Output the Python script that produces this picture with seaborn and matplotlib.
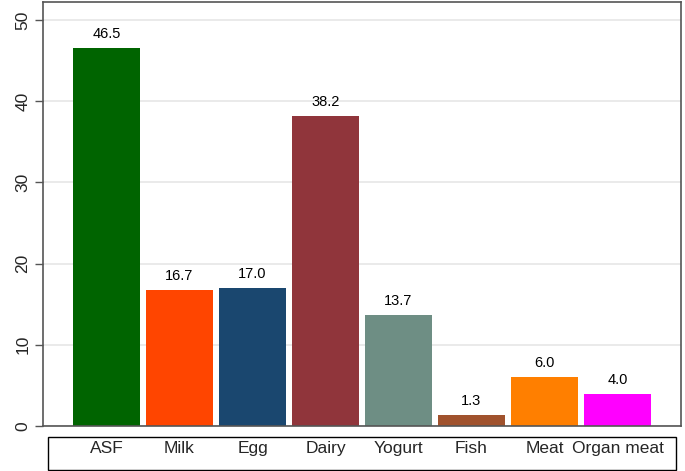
import matplotlib
matplotlib.use("Agg")
import matplotlib.pyplot as plt
import seaborn as sns
import pandas as pd
from matplotlib.patches import Rectangle

sns.set_theme(style="white")
plt.rcParams["font.family"] = ["Liberation Sans", "DejaVu Sans"]

# data
categories = ["ASF", "Milk", "Egg", "Dairy", "Yogurt", "Fish", "Meat", "Organ meat"]
values = [46.5, 16.7, 17.0, 38.2, 13.7, 1.3, 6.0, 4.0]
colors = ["#006400", "#FF4500", "#1A476F", "#90353B",
          "#6E8E84", "#A0522D", "#FF7F00", "#FF00FF"]
yticks = [0, 10, 20, 30, 40, 50]

df = pd.DataFrame({"food": categories, "pct": values})

fig = plt.figure(figsize=(6.85, 4.71), dpi=100)
ax = fig.add_axes([43 / 685, 1 - 426 / 471, (681 - 43) / 685, (426 - 2) / 471])

sns.barplot(data=df, x="food", y="pct", hue="food", palette=colors,
            width=0.92, legend=False, saturation=1, linewidth=0,
            ax=ax, zorder=3)

for c in ax.containers:
    ax.bar_label(c, fmt="%.1f", padding=5, fontsize=10.5, color="black")

ax.set_ylim(0, 52.2)
ax.set_xlim(-0.87, 7.87)
ax.set_yticks(yticks)
ax.set_yticklabels([str(t) for t in yticks], rotation=90, va="center",
                   fontsize=12.5)
ax.set_xlabel("")
ax.set_ylabel("")
ax.yaxis.grid(True, color="#EAEAEA", linewidth=1.4, zorder=0)
ax.set_axisbelow(True)
ax.tick_params(axis="y", direction="out", length=6, width=1, color="#555555",
               left=True, pad=3)
ax.tick_params(axis="x", length=0, pad=11, labelsize=12.5)

for s in ax.spines.values():
    s.set_color("#555555")
    s.set_linewidth(1.2)
    s.set_zorder(5)

# legend-like box around the category labels
fig.patches.append(Rectangle((48 / 685, 1 - 470 / 471), (676 - 48) / 685,
                             (470 - 437) / 471, transform=fig.transFigure,
                             fill=False, edgecolor="black", linewidth=1))

fig.savefig("out.png", dpi=100)
